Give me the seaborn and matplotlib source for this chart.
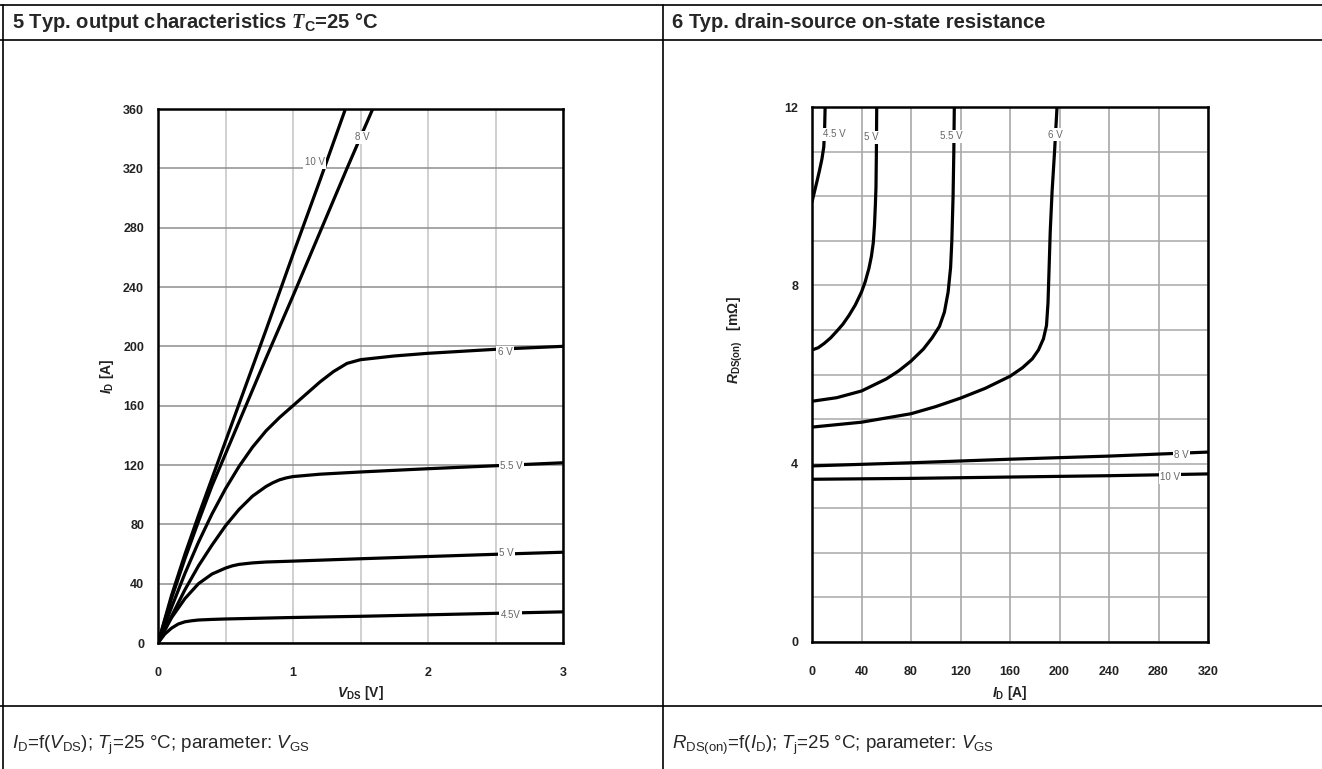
# datasheet figures 5 and 6: output characteristics and on-state resistance

import numpy as np
import pandas as pd
import seaborn as sns
import matplotlib.pyplot as plt
from matplotlib.lines import Line2D

# fig 5: I_D vs V_DS, one curve per V_GS
vds_45 = [0, 0.05, 0.1, 0.15, 0.2, 0.25, 0.3, 0.4, 0.5, 1.0, 1.5, 2.0, 2.5, 3.0]
id_45 = [0, 6, 10, 12.8, 14.3, 15, 15.5, 15.9, 16.2, 17.2, 18, 19, 20, 21]
vds_5 = [0, 0.1, 0.2, 0.3, 0.4, 0.5, 0.55, 0.6, 0.7, 0.8, 1.0, 1.5, 2.0, 2.5, 3.0]
id_5 = [0, 17, 30, 40, 46.5, 50.5, 52, 53, 54, 54.6, 55.2, 56.8, 58.3, 59.8, 61.2]
vds_55 = [0, 0.1, 0.2, 0.3, 0.4, 0.5, 0.6, 0.7, 0.8, 0.85, 0.9, 0.95, 1.0, 1.2, 1.5, 2.0, 2.5, 3.0]
id_55 = [0, 18, 36, 52, 66, 79, 90, 99, 105.5, 108, 110, 111.3, 112.2, 113.8, 115.3, 117.5, 119.5, 121.5]
vds_6 = [0, 0.1, 0.2, 0.3, 0.4, 0.5, 0.6, 0.7, 0.8, 0.9, 1.0, 1.1, 1.2, 1.3, 1.4, 1.5, 1.75, 2.0, 2.5, 3.0]
id_6 = [0, 24, 47, 68, 87, 104, 119, 132, 143, 152, 160, 168, 176, 183, 188.5, 191, 193.5, 195.3, 198, 200]
vds_8 = [0, 0.1, 0.2, 0.3, 0.4, 0.6, 0.8, 1.0, 1.2, 1.4, 1.6]
id_8 = [0, 30, 57, 82, 106, 149, 192, 234, 277, 320, 362]
vds_10 = [0, 0.1, 0.2, 0.3, 0.4, 0.6, 0.8, 1.0, 1.2, 1.4]
id_10 = [0, 32, 60, 86, 111, 161, 211, 262, 312, 363]

# fig 6: R_DS(on) vs I_D
id_r45 = [0, 2, 4, 6, 8, 9.5, 10.2, 10.6]
r_45 = [9.87, 10.1, 10.33, 10.57, 10.83, 11.1, 11.5, 12]
id_r5 = [0, 5, 10, 15, 20, 25, 30, 35, 40, 43, 46, 48, 49.5, 50.5, 51.2, 51.7, 52, 52.2, 52.3]
r_5 = [6.55, 6.6, 6.7, 6.82, 6.97, 7.13, 7.33, 7.56, 7.85, 8.08, 8.38, 8.65, 8.95, 9.35, 9.8, 10.2, 10.9, 11.6, 12]
id_r55 = [0, 20, 40, 60, 70, 80, 90, 97, 103, 107, 110, 112, 113, 114, 114.6, 115]
r_55 = [5.4, 5.48, 5.63, 5.9, 6.08, 6.3, 6.57, 6.82, 7.08, 7.4, 7.85, 8.4, 9.0, 10.0, 11, 12]
id_r6 = [0, 40, 80, 100, 120, 140, 160, 170, 178, 183, 187, 189.5, 190.7, 191.5, 192.5, 194, 196, 198]
r_6 = [4.82, 4.93, 5.12, 5.28, 5.47, 5.69, 5.96, 6.15, 6.35, 6.55, 6.8, 7.1, 7.6, 8.3, 9.2, 10.1, 11, 12]
id_r8 = [0, 80, 160, 240, 320]
r_8 = [3.95, 4.02, 4.1, 4.17, 4.26]
id_r10 = [0, 80, 160, 240, 320]
r_10 = [3.65, 3.67, 3.7, 3.73, 3.77]

vgs_names = ["4.5 V", "5 V", "5.5 V", "6 V", "8 V", "10 V"]

# curve labels (text, x, y)
out_labels = [("10 V", 1.16, 324), ("8 V", 1.51, 341), ("6 V", 2.57, 196),
              ("5.5 V", 2.62, 119), ("5 V", 2.58, 61), ("4.5V", 2.61, 19)]
res_labels = [("4.5 V", 17.8, 11.39), ("5 V", 48.2, 11.32), ("5.5 V", 112.3, 11.34),
              ("6 V", 196.4, 11.38), ("8 V", 298.7, 4.2), ("10 V", 289.3, 3.7)]


def long_df(xs, ys, xname, yname):
    rows = []
    for name, x, y in zip(vgs_names, xs, ys):
        rows.append(pd.DataFrame({xname: x, yname: y, "vgs": name}))
    return pd.concat(rows, ignore_index=True)


df_out = long_df([vds_45, vds_5, vds_55, vds_6, vds_8, vds_10],
                 [id_45, id_5, id_55, id_6, id_8, id_10], "vds", "id")
df_res = long_df([id_r45, id_r5, id_r55, id_r6, id_r8, id_r10],
                 [r_45, r_5, r_55, r_6, r_8, r_10], "id", "r")

sns.set_style("white")
plt.rcParams["font.family"] = ["Liberation Sans", "DejaVu Sans"]
plt.rcParams["mathtext.fontset"] = "custom"
plt.rcParams["mathtext.rm"] = "Liberation Sans"
plt.rcParams["mathtext.it"] = "Liberation Sans:italic"
plt.rcParams["mathtext.bf"] = "Liberation Sans:bold"
plt.rcParams["mathtext.bfit"] = "Liberation Sans:italic:bold"
plt.rcParams["mathtext.cal"] = "Liberation Serif:italic:bold"

W, H = 1322, 769
fig = plt.figure(figsize=(W / 100, H / 100), dpi=100)
fig.patch.set_facecolor("white")


def px_axes(l, t, r, b):
    return fig.add_axes([l / W, 1 - b / H, (r - l) / W, (b - t) / H])


def hline(y, x0=0, x1=W):
    fig.add_artist(Line2D([x0 / W, x1 / W], [1 - y / H, 1 - y / H], color="black", lw=1.2))


def vline(x, y0=0, y1=H):
    fig.add_artist(Line2D([x / W, x / W], [1 - y0 / H, 1 - y1 / H], color="black", lw=1.2))


def style_axes(ax, xgrid_col, ygrid_col):
    ax.grid(False)
    for s in ax.spines.values():
        s.set_color("black")
        s.set_linewidth(1.8)
        s.set_visible(True)
        s.set_zorder(5)
    ax.tick_params(axis="both", which="both", colors="#888888", length=4, width=0.8,
                   labelcolor="#222222", labelsize=9, pad=6)
    ax.tick_params(axis="x", pad=13)
    for lab in ax.get_xticklabels() + ax.get_yticklabels():
        lab.set_fontweight("bold")
    ax.grid(True, which="both", axis="x", color=xgrid_col, lw=1.1)
    ax.grid(True, which="both", axis="y", color=ygrid_col, lw=1.1)
    ax.set_axisbelow(True)
    ax.set_xlabel("")
    ax.set_ylabel("")


# ---- left panel
ax1 = px_axes(158, 109, 563, 643)
sns.lineplot(data=df_out, x="vds", y="id", units="vgs", estimator=None, sort=False,
             color="black", lw=2.3, ax=ax1, legend=False)
ax1.set_xlim(0, 3)
ax1.set_ylim(0, 360)
ax1.set_xticks([0, 1, 2, 3])
ax1.set_xticks([0.5, 1.5, 2.5], minor=True)
ax1.set_yticks(np.arange(0, 361, 40))
style_axes(ax1, "#c4c4c4", "#8e8e8e")
ax1.tick_params(axis="x", which="minor", length=0)
for txt, x, y in out_labels:
    ax1.text(x, y, txt, fontsize=7, color="#666666", ha="center", va="center", zorder=6,
             bbox=dict(boxstyle="square,pad=0.15", fc="white", ec="none"))

# ---- right panel
ax2 = px_axes(812, 107, 1208, 642)
sns.lineplot(data=df_res, x="id", y="r", units="vgs", estimator=None, sort=False,
             color="black", lw=2.3, ax=ax2, legend=False)
ax2.set_xlim(0, 320)
ax2.set_ylim(0, 12)
ax2.set_xticks(np.arange(0, 321, 40))
ax2.set_yticks([0, 4, 8, 12])
ax2.set_yticks([1, 2, 3, 5, 6, 7, 9, 10, 11], minor=True)
style_axes(ax2, "#a0a0a0", "#a8a8a8")
ax2.tick_params(axis="y", which="minor", length=0)
for txt, x, y in res_labels:
    ax2.text(x, y, txt, fontsize=7, color="#666666", ha="center", va="center", zorder=6,
             bbox=dict(boxstyle="square,pad=0.15", fc="white", ec="none"))

# ---- axis titles
fig.text(360 / W, 1 - 693 / H, r"$\mathbfit{V}_{\mathbf{DS}}$ [V]", ha="center", va="center",
         fontsize=10, fontweight="bold", color="#222222")
fig.text(107 / W, 1 - 376 / H, r"$\mathbfit{I}_{\mathbf{D}}$ [A]", ha="center", va="center",
         rotation=90, fontsize=10, fontweight="bold", color="#222222")
fig.text(1010 / W, 1 - 693 / H, r"$\mathbfit{I}_{\mathbf{D}}$ [A]", ha="center", va="center",
         fontsize=10, fontweight="bold", color="#222222")
fig.text(735 / W, 1 - 340 / H, r"$\mathbfit{R}_{\mathbf{DS(on)}}$   [mΩ]", ha="center", va="center",
         rotation=90, fontsize=10, fontweight="bold", color="#222222")

# ---- table frame, headers, captions
hline(5)
hline(40)
hline(706)
vline(3, 5, H)
vline(663, 5, H)

fig.text(12 / W, 1 - 22 / H, r"5 Typ. output characteristics $\mathcal{T}_{\mathbf{C}}$=25 °C",
         ha="left", va="center", fontsize=14.5, fontweight="bold")
fig.text(672 / W, 1 - 22 / H, "6 Typ. drain-source on-state resistance",
         ha="left", va="center", fontsize=14.5, fontweight="bold")
fig.text(12 / W, 1 - 745 / H,
         r"$\mathit{I}_{\mathrm{D}}$=f($\mathit{V}_{\mathrm{DS}}$); $\mathit{T}_{\mathrm{j}}$=25 °C; parameter: $\mathit{V}_{\mathrm{GS}}$",
         ha="left", va="center", fontsize=13.5)
fig.text(672 / W, 1 - 745 / H,
         r"$\mathit{R}_{\mathrm{DS(on)}}$=f($\mathit{I}_{\mathrm{D}}$); $\mathit{T}_{\mathrm{j}}$=25 °C; parameter: $\mathit{V}_{\mathrm{GS}}$",
         ha="left", va="center", fontsize=13.5)

fig.savefig("out.png", dpi=100)
